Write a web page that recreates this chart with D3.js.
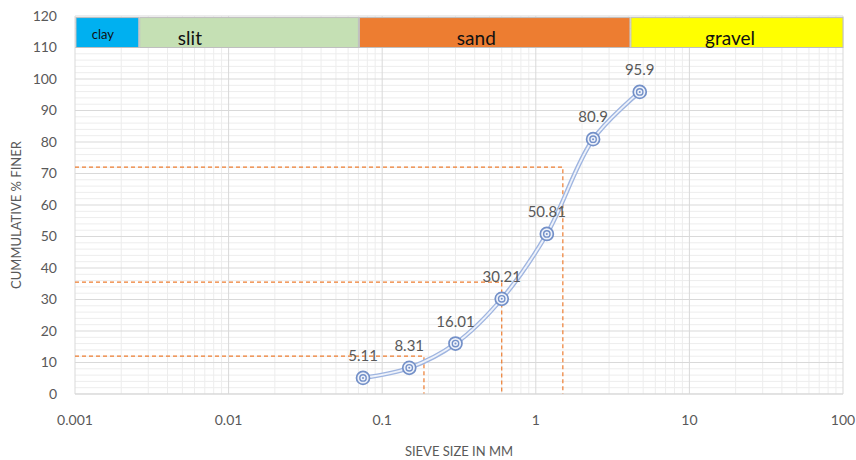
<!DOCTYPE html>
<html lang="en">
<head>
<meta charset="UTF-8">
<title>Grain size distribution</title>
<script src="https://cdnjs.cloudflare.com/ajax/libs/d3/7.8.5/d3.min.js"></script>
<style>
  body { margin: 0; background: #fff; font-family: Lato, "Open Sans", sans-serif; }
  svg text { fill: #595959; }
</style>
</head>
<body>
<div id="chart"></div>
<script>
  // sieve data
  const sieveSizes = [0.075, 0.15, 0.3, 0.6, 1.18, 2.36, 4.75];
  const percentFiner = [5.11, 8.31, 16.01, 30.21, 50.81, 80.9, 95.9];

  // D-value guide lines [size, percent]
  const guideSizes = [0.187, 0.6, 1.5];
  const guidePercents = [12, 35.5, 72];

  // soil classes along the top band
  const soilNames = ["clay", "slit", "sand", "gravel"];
  const soilStarts = [0.001, 0.0026, 0.07, 4.1];
  const soilEnds = [0.0026, 0.07, 4.1, 100];
  const soilLabelAt = [0.00152, 0.0056, 0.41, 18.4];
  const soilColors = ["#00b0f0", "#c5e0b4", "#ed7d31", "#ffff00"];

  const xTicks = [0.001, 0.01, 0.1, 1, 10, 100];
  const yTicks = d3.range(0, 121, 10);

  const width = 856, height = 460;
  const margin = { top: 16, right: 13, bottom: 66, left: 75 };

  const svg = d3.select("#chart").append("svg")
      .attr("width", width)
      .attr("height", height);

  const x = d3.scaleLog([0.001, 100], [margin.left, width - margin.right]);
  const y = d3.scaleLinear([0, 120], [height - margin.bottom, margin.top]);

  // minor grid
  const minorX = [];
  for (let d = 0.001; d < 100; d *= 10) {
    for (let m = 2; m <= 9; m++) minorX.push(d * m);
  }
  svg.append("g").selectAll("line").data(minorX).join("line")
      .attr("x1", d => x(d)).attr("x2", d => x(d))
      .attr("y1", y(0)).attr("y2", y(120))
      .attr("stroke", "#ededed");
  svg.append("g").selectAll("line").data(d3.range(2, 120, 2).filter(d => d % 10)).join("line")
      .attr("x1", x(0.001)).attr("x2", x(100))
      .attr("y1", d => y(d)).attr("y2", d => y(d))
      .attr("stroke", "#ededed");

  // major grid
  svg.append("g").selectAll("line").data(xTicks).join("line")
      .attr("x1", d => x(d)).attr("x2", d => x(d))
      .attr("y1", y(0)).attr("y2", y(120))
      .attr("stroke", "#d9d9d9");
  svg.append("g").selectAll("line").data(yTicks).join("line")
      .attr("x1", x(0.001)).attr("x2", x(100))
      .attr("y1", d => y(d)).attr("y2", d => y(d))
      .attr("stroke", "#d9d9d9");

  // soil band
  const band = svg.append("g");
  band.selectAll("rect").data(soilNames).join("rect")
      .attr("x", (d, i) => x(soilStarts[i]) + 1)
      .attr("width", (d, i) => x(soilEnds[i]) - x(soilStarts[i]) - 1)
      .attr("y", y(119.5))
      .attr("height", y(110) - y(119.5))
      .attr("fill", (d, i) => soilColors[i])
      .attr("stroke", "#bfbfbf")
      .attr("stroke-width", 1);
  band.selectAll("text").data(soilNames).join("text")
      .attr("x", (d, i) => x(soilLabelAt[i]))
      .attr("y", (d, i) => i === 0 ? 39 : 45)
      .attr("text-anchor", "middle")
      .style("font-size", (d, i) => i === 0 ? "13px" : "19px")
      .style("fill", "#111")
      .text(d => d);

  // guide lines
  const guides = svg.append("g")
      .attr("fill", "none")
      .attr("stroke", "#ed7d31")
      .attr("stroke-width", 1.2)
      .attr("stroke-dasharray", "4,3");
  guideSizes.forEach((s, i) => {
    guides.append("path")
        .attr("d", d3.line()([[x(0.001), y(guidePercents[i])], [x(s), y(guidePercents[i])], [x(s), y(0)]]));
  });

  // curve
  const pts = sieveSizes.map((s, i) => [x(s), y(percentFiner[i])]);
  const line = d3.line().curve(d3.curveCatmullRom.alpha(0.5));
  svg.append("path").attr("d", line(pts))
      .attr("fill", "none").attr("stroke", "#9fb5e0").attr("stroke-width", 4.5);
  svg.append("path").attr("d", line(pts))
      .attr("fill", "none").attr("stroke", "#eef2fa").attr("stroke-width", 1.8);

  // markers
  const mk = svg.append("g").selectAll("g").data(pts).join("g")
      .attr("transform", d => `translate(${d[0]},${d[1]})`);
  mk.append("circle").attr("r", 6.5).attr("fill", "#eef2fa")
      .attr("stroke", "#7390c8").attr("stroke-width", 1.7);
  mk.append("circle").attr("r", 3.2).attr("fill", "none")
      .attr("stroke", "#7390c8").attr("stroke-width", 1.4);
  mk.append("circle").attr("r", 1).attr("fill", "#7390c8");

  // data labels
  svg.append("g").selectAll("text").data(percentFiner).join("text")
      .attr("x", (d, i) => pts[i][0])
      .attr("y", (d, i) => pts[i][1] - 17)
      .attr("text-anchor", "middle")
      .style("font-size", "15px")
      .text(d => d);

  // axes
  svg.append("g").selectAll("text").data(yTicks).join("text")
      .attr("x", 57)
      .attr("y", d => y(d))
      .attr("dy", "0.35em")
      .attr("text-anchor", "end")
      .style("font-size", "14px")
      .text(d => d);

  svg.append("g").selectAll("text").data(xTicks).join("text")
      .attr("x", d => x(d))
      .attr("y", 425)
      .attr("text-anchor", "middle")
      .style("font-size", "14px")
      .text(d => d3.format("~g")(d));

  svg.append("line")
      .attr("x1", x(0.001)).attr("x2", x(100))
      .attr("y1", y(0)).attr("y2", y(0))
      .attr("stroke", "#d9d9d9");

  svg.append("text")
      .attr("x", (x(0.001) + x(100)) / 2)
      .attr("y", 456)
      .attr("text-anchor", "middle")
      .style("font-size", "13px")
      .text("SIEVE SIZE IN MM");

  svg.append("text")
      .attr("transform", `translate(21,${(y(0) + y(120)) / 2 + 10}) rotate(-90)`)
      .attr("text-anchor", "middle")
      .style("font-size", "13px")
      .text("CUMMULATIVE % FINER");
</script>
</body>
</html>
